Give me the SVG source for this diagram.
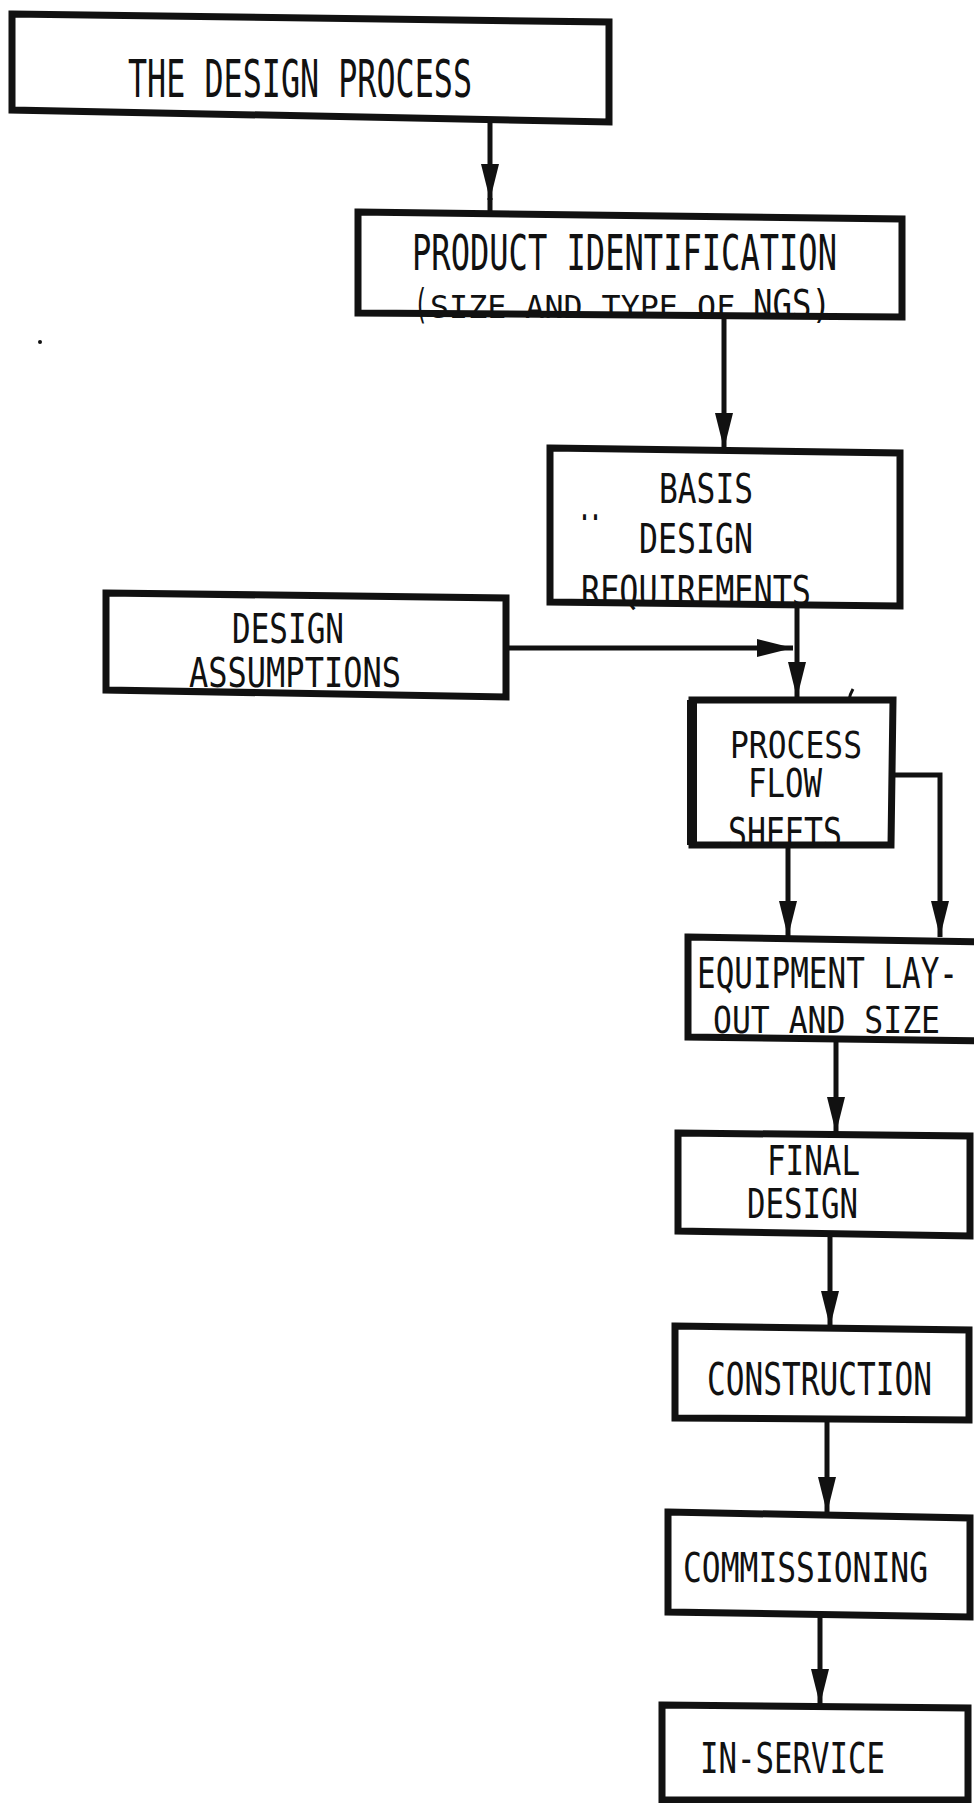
<svg xmlns="http://www.w3.org/2000/svg" width="974" height="1803" viewBox="0 0 974 1803">
<defs>
<marker id="ah" markerUnits="userSpaceOnUse" markerWidth="36" markerHeight="20" viewBox="0 0 36 20" refX="36" refY="10" orient="auto"><path d="M0 1 L36 10 L0 19 Z" fill="#111"/></marker>
<style>
.box{fill:#fff;stroke:#111;stroke-width:7;stroke-linejoin:miter}
.t{font-family:"DejaVu Sans Mono","Liberation Mono",monospace;fill:#111}
.c{fill:none;stroke:#111;stroke-width:5}
</style>
</defs>
<rect x="0" y="0" width="974" height="1803" fill="#fff"/>
<circle cx="40" cy="342" r="2" fill="#111"/>
<g id="connectors">
<path class="c" d="M490 122 V200" marker-end="url(#ah)"/>
<path class="c" d="M490 198 V213"/>
<path class="c" d="M724 317 V449" marker-end="url(#ah)"/>
<path class="c" d="M506 648 H793" marker-end="url(#ah)"/>
<path class="c" d="M797 605 V698" marker-end="url(#ah)"/>
<path class="c" d="M788 845 V937" marker-end="url(#ah)"/>
<path class="c" d="M893 775 H940 V937" marker-end="url(#ah)"/>
<path class="c" d="M836 1039 V1133" marker-end="url(#ah)"/>
<path class="c" d="M830 1234 V1327" marker-end="url(#ah)"/>
<path class="c" d="M827 1420 V1513" marker-end="url(#ah)"/>
<path class="c" d="M820 1615 V1705" marker-end="url(#ah)"/>
<path d="M853 689 q-3 5 -4 11" fill="none" stroke="#111" stroke-width="3"/>
</g>
<g id="n-design-process">
<path class="box" d="M12 14 L609 22 L609 122 L12 110 Z"/>
<text class="t" x="128" y="97" font-size="51" textLength="344" lengthAdjust="spacingAndGlyphs">THE DESIGN PROCESS</text>
</g>
<g id="n-product-identification">
<path class="box" d="M358 212 L902 219 L902 317 L358 313 Z"/>
<text class="t" x="412" y="270" font-size="50" textLength="425" lengthAdjust="spacingAndGlyphs">PRODUCT IDENTIFICATION</text>
<text class="t" x="414" y="318" font-size="40" textLength="14" lengthAdjust="spacingAndGlyphs">(</text>
<text class="t" x="430" y="318" font-size="32" textLength="305" lengthAdjust="spacingAndGlyphs">SIZE AND TYPE OF</text>
<text class="t" x="753" y="318" font-size="39" textLength="78" lengthAdjust="spacingAndGlyphs">NGS)</text>
</g>
<g id="n-basis">
<path class="box" d="M550 448 L900 453 L900 606 L550 602 Z"/>
<text class="t" x="659" y="503" font-size="41" textLength="94" lengthAdjust="spacingAndGlyphs">BASIS</text>
<text class="t" x="579" y="528" font-size="32" font-weight="bold" textLength="22" lengthAdjust="spacingAndGlyphs">··</text>
<text class="t" x="639" y="553" font-size="41" textLength="114" lengthAdjust="spacingAndGlyphs">DESIGN</text>
<text class="t" x="581" y="605" font-size="41" textLength="230" lengthAdjust="spacingAndGlyphs">REQUIREMENTS</text>
</g>
<g id="n-assumptions">
<path class="box" d="M106 593 L506 598 L506 697 L106 690 Z"/>
<text class="t" x="232" y="643" font-size="41" textLength="112" lengthAdjust="spacingAndGlyphs">DESIGN</text>
<text class="t" x="189" y="687" font-size="41" textLength="212" lengthAdjust="spacingAndGlyphs">ASSUMPTIONS</text>
</g>
<g id="n-process-flow">
<path class="box" d="M692 700 L893 700 L891 845 L692 845 Z"/>
<path d="M692 700 V845" stroke="#111" stroke-width="10"/>
<text class="t" x="730" y="758" font-size="38" textLength="132" lengthAdjust="spacingAndGlyphs">PROCESS</text>
<text class="t" x="748" y="797" font-size="39" textLength="74" lengthAdjust="spacingAndGlyphs">FLOW</text>
<text class="t" x="728" y="847" font-size="41" textLength="114" lengthAdjust="spacingAndGlyphs">SHEETS</text>
</g>
<g id="n-equipment">
<path class="box" d="M688 937 L985 942 L985 1041 L688 1037 Z"/>
<text class="t" x="697" y="988" font-size="42" textLength="261" lengthAdjust="spacingAndGlyphs">EQUIPMENT LAY-</text>
<text class="t" x="713" y="1033" font-size="38" textLength="227" lengthAdjust="spacingAndGlyphs">OUT AND SIZE</text>
</g>
<g id="n-final-design">
<path class="box" d="M678 1133 L970 1136 L970 1236 L678 1231 Z"/>
<text class="t" x="767" y="1175" font-size="41" textLength="93" lengthAdjust="spacingAndGlyphs">FINAL</text>
<text class="t" x="747" y="1218" font-size="41" textLength="111" lengthAdjust="spacingAndGlyphs">DESIGN</text>
</g>
<g id="n-construction">
<path class="box" d="M675 1326 L969 1330 L969 1420 L675 1418 Z"/>
<text class="t" x="707" y="1395" font-size="45" textLength="225" lengthAdjust="spacingAndGlyphs">CONSTRUCTION</text>
</g>
<g id="n-commissioning">
<path class="box" d="M668 1512 L970 1518 L970 1617 L668 1612 Z"/>
<text class="t" x="683" y="1582" font-size="40" textLength="245" lengthAdjust="spacingAndGlyphs">COMMISSIONING</text>
</g>
<g id="n-in-service">
<path class="box" d="M662 1705 L968 1708 L968 1800 L662 1800 Z"/>
<text class="t" x="700" y="1773" font-size="42" textLength="185" lengthAdjust="spacingAndGlyphs">IN-SERVICE</text>
</g>
</svg>
